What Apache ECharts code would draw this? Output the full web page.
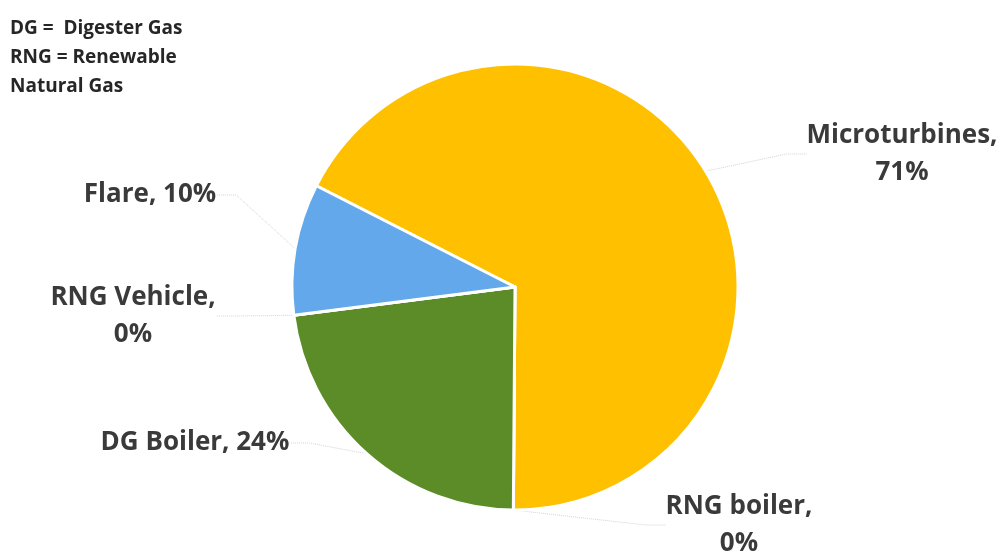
<!DOCTYPE html>
<html>
<head>
<meta charset="utf-8">
<script src="https://cdn.jsdelivr.net/npm/echarts@6/dist/echarts.min.js"></script>
<style>
html,body{margin:0;padding:0;background:#fff;}
#chart{width:1003px;height:557px;}
</style>
</head>
<body>
<div id="chart"></div>
<script>
// Data
const categories = ['Microturbines', 'RNG boiler', 'DG Boiler', 'RNG Vehicle', 'Flare'];
const values = [71, 0, 24, 0, 10];
const colors = ['#FFC000', '#FFC000', '#5B8C28', '#5B8C28', '#62A8EA'];
const noteLines = ['DG =  Digester Gas', 'RNG = Renewable', 'Natural Gas'];

// Label layout (positions only)
const labelPos = [
  {x: 902, y: 154, wrap: true},
  {x: 739, y: 525, wrap: true},
  {x: 195, y: 443, wrap: false},
  {x: 133, y: 316, wrap: true},
  {x: 150, y: 195, wrap: false}
];

const chart = echarts.init(document.getElementById('chart'), null, {renderer: 'canvas'});
const FONT = '"Open Sans", Lato, sans-serif';

chart.setOption({
  animation: false,
  backgroundColor: '#ffffff',
  graphic: noteLines.map((t, i) => ({
    type: 'text',
    left: 10,
    top: 19 + i * 29,
    style: {text: t, font: 'bold 19px ' + FONT, fill: '#262626'}
  })),
  series: [{
    type: 'pie',
    center: [515, 287],
    radius: [0, 223],
    startAngle: 153,
    clockwise: true,
    avoidLabelOverlap: false,
    itemStyle: {borderColor: '#ffffff', borderWidth: 3},
    data: categories.map((c, i) => ({name: c, value: values[i], itemStyle: {color: colors[i]}})),
    label: {
      show: true,
      color: '#3a3a3a',
      fontFamily: FONT,
      fontWeight: 'bold',
      fontSize: 26,
      lineHeight: 37,
      align: 'center',
      formatter: p => labelPos[p.dataIndex].wrap ? p.name + ',\n' + p.value + '%' : p.name + ', ' + p.value + '%'
    },
    labelLine: {
      show: true,
      length: 20,
      length2: 20,
      lineStyle: {color: '#d4d4d4', width: 1, type: 'dotted'}
    },
    labelLayout: p => ({
      x: labelPos[p.dataIndex].x,
      y: labelPos[p.dataIndex].y,
      align: 'center',
      verticalAlign: 'middle'
    })
  }]
});
</script>
</body>
</html>
